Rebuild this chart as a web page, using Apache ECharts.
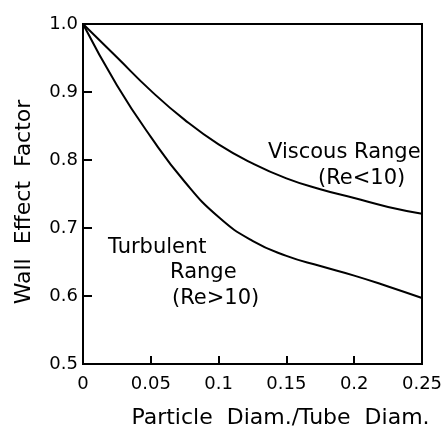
<!DOCTYPE html>
<html>
<head>
<meta charset="utf-8">
<script src="https://cdn.jsdelivr.net/npm/echarts@6/dist/echarts.min.js"></script>
<style>
  html, body { margin: 0; padding: 0; background: #fff; }
  #chart { width: 446px; height: 428px; }
</style>
</head>
<body>
<div id="chart"></div>
<script>
// particle diam. / tube diam.
var ratio = [0, 0.025, 0.05, 0.075, 0.1, 0.125, 0.15, 0.175, 0.2, 0.225, 0.25];
// wall effect factor, viscous range (Re < 10)
var viscous = [1.0, 0.951, 0.902, 0.859, 0.823, 0.795, 0.773, 0.757, 0.744, 0.731, 0.721];
// wall effect factor, turbulent range (Re > 10)
var turbulent = [1.0, 0.910, 0.834, 0.768, 0.716, 0.681, 0.659, 0.644, 0.630, 0.614, 0.597];

var font = "DejaVu Sans";

function pairs(ys) {
  return ratio.map(function (x, i) { return [x, ys[i]]; });
}

var myChart = echarts.init(document.getElementById("chart"));

myChart.setOption({
  backgroundColor: "#fff",
  animation: false,
  textStyle: { fontFamily: font, color: "#000" },
  grid: {
    left: 83,
    right: 24,
    top: 24,
    bottom: 64,
    outerBoundsMode: "none",
    show: true,
    borderColor: "#000",
    borderWidth: 2
  },
  xAxis: {
    type: "value",
    min: 0,
    max: 0.25,
    interval: 0.05,
    name: "Particle  Diam./Tube  Diam.",
    nameLocation: "middle",
    nameGap: 43,
    nameTextStyle: { fontSize: 22, color: "#000", padding: [0, 0, 0, 56] },
    axisLine: { lineStyle: { color: "#000", width: 2 } },
    axisTick: { inside: true, length: 8, lineStyle: { color: "#000", width: 2 } },
    axisLabel: { fontSize: 18, color: "#000", margin: 11 },
    splitLine: { show: false }
  },
  yAxis: {
    type: "value",
    min: 0.5,
    max: 1.0,
    interval: 0.1,
    name: "Wall  Effect  Factor",
    nameLocation: "middle",
    nameGap: 48,
    nameTextStyle: { fontSize: 22, color: "#000", padding: [0, 16, 0, 0] },
    axisLine: { lineStyle: { color: "#000", width: 2 } },
    axisTick: { inside: true, length: 9, lineStyle: { color: "#000", width: 2 } },
    axisLabel: {
      fontSize: 18,
      color: "#000",
      margin: 5,
      formatter: function (v) { return v.toFixed(1); }
    },
    splitLine: { show: false }
  },
  series: [
    {
      name: "Viscous Range",
      type: "line",
      data: pairs(viscous),
      smooth: 0.5,
      showSymbol: false,
      lineStyle: { color: "#000", width: 2 }
    },
    {
      name: "Turbulent Range",
      type: "line",
      data: pairs(turbulent),
      smooth: 0.5,
      showSymbol: false,
      lineStyle: { color: "#000", width: 2 }
    }
  ],
  graphic: [
    { type: "text", left: 268, top: 142, style: { text: "Viscous Range", font: "21px " + font, fill: "#000" } },
    { type: "text", left: 318, top: 168, style: { text: "(Re<10)", font: "21px " + font, fill: "#000" } },
    { type: "text", left: 108, top: 237, style: { text: "Turbulent", font: "21px " + font, fill: "#000" } },
    { type: "text", left: 170, top: 262, style: { text: "Range", font: "21px " + font, fill: "#000" } },
    { type: "text", left: 172, top: 288, style: { text: "(Re>10)", font: "21px " + font, fill: "#000" } }
  ]
});
</script>
</body>
</html>
